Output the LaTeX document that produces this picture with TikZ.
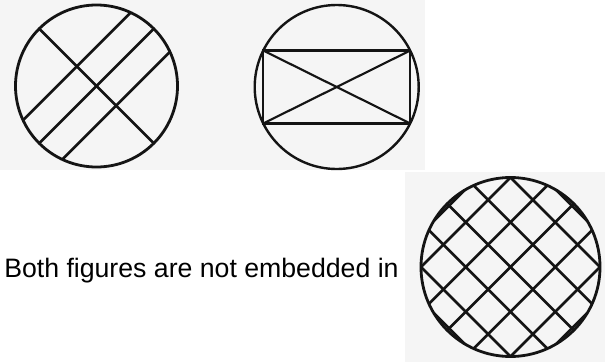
\documentclass[tikz,border=0pt]{standalone}
\usepackage{fontspec}
\setmainfont{Liberation Sans}

\begin{document}
\begin{tikzpicture}[
        x=0.75pt, y=0.75pt,
        scan/.style={fill=gray!8, draw=none},
        rim/.style={draw=black!92, line width=2.1pt},
        chord/.style={draw=black!92, line width=2pt},
        thinchord/.style={draw=black!92, line width=1.6pt},
        caption/.style={
            anchor=base west,
            inner sep=0pt,
            font=\fontsize{20pt}{24pt}\selectfont
        }
    ]

    \useasboundingbox (0,0) rectangle (605,362);

    % scanned paper behind the figures
    \path[scan] (0,192) rectangle (425,362);
    \path[scan] (405,0) rectangle (605,190);

    \coordinate (o1) at (96.5,276);
    \coordinate (o2) at (336.7,275);
    \coordinate (o3) at (510.5,95);

    % first figure
    \begin{scope}[shift={(o1)}]
        \draw[chord] (135:81) -- (-45:81);
        \draw[chord] (45:81) -- (225:81);
        \draw[chord] (65:81) -- (205:81);
        \draw[chord] (25:81) -- (-115:81);
        \draw[rim] (0,0) circle[radius=81];
    \end{scope}

    % second figure
    \begin{scope}[shift={(o2)}]
        \draw[thinchord] (26.4:82) -- (153.6:82) -- (206.4:82) -- (333.6:82) -- cycle;
        \draw[thinchord] (26.4:82) -- (206.4:82);
        \draw[thinchord] (153.6:82) -- (333.6:82);
        \draw[thinchord, line width=1.8pt] (0,0) circle[radius=82];
    \end{scope}

    % third figure
    \begin{scope}[shift={(o3)}]
        \draw[chord] (45:89.5) -- (225:89.5);
        \draw[chord] (135:89.5) -- (315:89.5);
        \foreach \ph in {45,135,225,315}
            \foreach \al in {69.3,45,14.1}
                \draw[chord] (\ph+\al:89.5) -- (\ph-\al:89.5);
        \draw[rim] (0,0) circle[radius=89.5];
    \end{scope}

    \node[caption] (note) at (4,84.3) {Both figures are not embedded in};

\end{tikzpicture}
\end{document}
